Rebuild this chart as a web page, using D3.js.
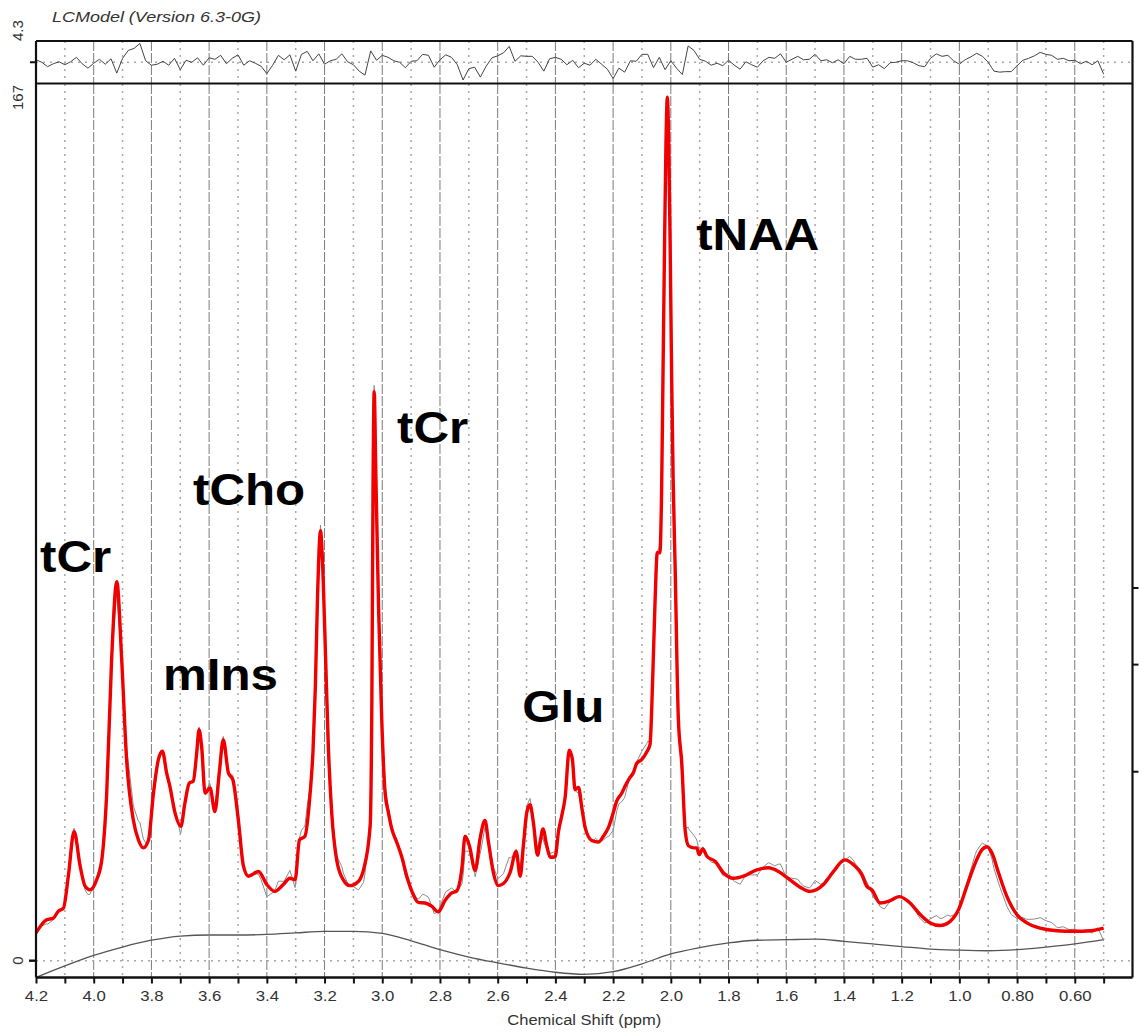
<!DOCTYPE html>
<html>
<head>
<meta charset="utf-8">
<script src="https://cdn.jsdelivr.net/npm/d3@7"></script>
<style>
  body { margin: 0; background: #fff; }
  svg { display: block; }
  text { font-family: "Liberation Sans", Arial, Helvetica, sans-serif; }
</style>
</head>
<body>
<script>
// ---- Fitted spectrum (ppm, amplitude) ----
const fitPpm = [4.200,4.163,4.140,4.123,4.105,4.088,4.068,4.047,4.030,4.013,3.990,3.972,3.955,3.938,3.920,3.903,3.886,3.863,3.845,3.828,3.810,3.793,3.776,3.762,3.747,3.736,3.718,3.698,3.684,3.669,3.655,3.643,3.635,3.626,3.614,3.597,3.580,3.565,3.551,3.533,3.518,3.499,3.481,3.464,3.429,3.400,3.372,3.343,3.320,3.302,3.287,3.268,3.250,3.240,3.232,3.224,3.214,3.205,3.196,3.187,3.175,3.158,3.135,3.112,3.083,3.065,3.042,3.036,3.032,3.028,3.022,3.013,3.002,2.990,2.979,2.967,2.950,2.932,2.915,2.898,2.875,2.852,2.829,2.806,2.782,2.759,2.742,2.724,2.713,2.698,2.678,2.661,2.644,2.632,2.615,2.598,2.580,2.557,2.536,2.522,2.511,2.499,2.488,2.476,2.462,2.453,2.443,2.430,2.418,2.401,2.389,2.378,2.366,2.352,2.341,2.332,2.320,2.308,2.297,2.274,2.251,2.234,2.216,2.199,2.187,2.170,2.158,2.144,2.130,2.118,2.101,2.083,2.072,2.063,2.055,2.047,2.038,2.032,2.027,2.022,2.017,2.012,2.007,2.002,1.997,1.992,1.985,1.974,1.962,1.950,1.939,1.921,1.910,1.902,1.889,1.875,1.846,1.817,1.783,1.748,1.702,1.662,1.627,1.587,1.552,1.517,1.471,1.436,1.398,1.367,1.338,1.321,1.303,1.275,1.246,1.208,1.171,1.136,1.101,1.067,1.032,1.003,0.974,0.945,0.922,0.904,0.887,0.864,0.835,0.801,0.766,0.720,0.662,0.603,0.545,0.500];
const fitVal = [5.3,7.8,8.1,9.4,10.0,16.1,24.6,18.0,14.2,13.5,15.4,19.2,31.9,57.3,72.2,57.3,38.3,26.9,23.0,21.5,23.0,31.9,38.3,39.9,35.7,33.2,28.1,25.6,30.0,33.8,34.2,39.6,44.0,40.8,31.9,32.9,28.4,35.7,42.1,35.7,34.5,26.9,18.0,16.1,17.0,14.5,13.2,14.5,15.7,15.4,23.0,23.7,31.9,40,52,70,81.9,73,57,41,28,19.2,15.4,14.3,15.1,17.3,25.6,50,90,108.4,92,67.7,46.2,31.9,28.3,25.1,22.6,19.7,16.1,13.3,11.1,11.0,10.4,9.3,11.5,12.9,13.3,17.6,23.7,21.9,17.2,23.3,26.7,22.6,16.8,14.3,14.7,16.8,20.8,16.1,21.9,28.3,29.7,26.2,20.1,22.6,25.1,21.9,19.7,19.8,24.7,27.6,31.2,40.1,38.3,32.6,33.0,29.0,25.4,22.9,22.6,23.7,25.4,28.3,30.5,31.9,33.3,34.7,35.8,37.6,38.3,39.8,41.2,53.4,67.7,77.7,77.7,89.2,112,135,155,164.5,155,135,110.7,92,74.9,46.2,37.6,24.7,21.9,21.5,21.5,20.2,21.3,19.9,18.9,16.7,15.7,16.1,17.3,17.7,17.0,15.4,14.0,13.2,14.5,17.0,19.2,18.3,16.4,14.2,13.5,11.0,11.3,12.2,11.0,8.8,7.2,6.7,7.5,9.7,14.2,18.6,21.1,21.7,20.5,16.7,12.2,8.8,7.2,6.2,5.7,5.6,5.7,6.2];

// ---- Baseline ----
const basePpm = [4.2,4.1,4.0,3.9,3.8,3.7,3.6,3.5,3.4,3.3,3.2,3.1,3.0,2.9,2.8,2.7,2.6,2.5,2.4,2.3,2.2,2.1,2.0,1.9,1.8,1.7,1.6,1.5,1.4,1.3,1.2,1.1,1.0,0.9,0.8,0.7,0.6,0.5];
const baseVal = [-3.2,-1.0,1.0,2.6,3.9,4.7,4.9,4.9,5.0,5.3,5.6,5.6,5.2,3.8,2.1,0.7,-0.4,-1.4,-2.2,-2.6,-2.1,-0.6,1.3,2.5,3.4,3.9,4.0,4.1,3.7,3.2,2.7,2.2,2.0,1.9,2.1,2.6,3.2,4.0];

// ---- Residual (data - fit), sampled every 0.02 ppm from 4.20 down to 0.50 ----
const residual = [
  0.5,0.0,-0.9,-0.3,0.1,-0.5,0.1,1.0,-0.3,-1.2,
  -0.2,0.6,-0.4,0.7,-2.2,0.8,2.4,2.8,3.8,0.3,
  -0.6,-0.4,0.2,-0.6,0.8,-1.5,0.4,0.0,0.9,-0.6,
  0.9,0.6,1.4,-0.3,0.8,1.5,-0.6,0.3,-0.2,-0.8,
  -2.3,-0.6,1.4,0.5,1.5,-1.8,1.6,2.2,0.3,1.7,
  -0.4,0.3,0.6,1.7,0.1,-0.5,-1.8,-2.6,2.3,0.4,
  1.4,1.0,0.3,
  0.0,-1.1,0.2,0.3,1.6,1.4,-1.0,0.5,1.5,1.0,
  -0.5,-3.6,-1.3,-1.0,-3.0,-0.8,0.9,1.3,1.9,3.2,
  0.2,1.3,1.2,1.2,0.0,-1.8,0.7,1.0,0.6,-0.5,
  0.4,-1.1,-0.2,-0.6,0.6,-0.4,-1.4,-3.3,-1.2,-2.0,
  0.3,0.2,1.6,1.6,-1.1,1.0,-1.5,0.3,-1.2,-2.5,
  3.3,2.4,0.6,0.2,-0.6,-0.2,-0.7,0.4,-0.6,-1.4,
  0.1,-0.5,-1.0,
  0.3,1.0,0.8,1.7,0.0,0.6,1.2,0.5,0.6,1.6,
  0.3,0.5,-0.1,0.5,-0.3,1.2,0.6,0.6,0.8,-1.0,
  -0.5,-1.3,-0.1,0.0,0.3,0.3,-0.1,-0.7,-0.9,0.8,
  1.7,1.2,1.4,0.3,-0.4,0.5,1.1,1.8,1.2,0.0,
  -1.8,-2.0,-1.9,-1.9,-0.7,0.4,0.8,1.3,2.0,1.6,
  1.4,0.6,0.8,0.3,0.4,-0.3,0.2,-0.5,0.3,-2.4
];
const residPpm = residual.map((_, i) => +(4.2 - i * 0.02).toFixed(2));

// ---- Axis ticks ----
const tickValues = [4.2,4.0,3.8,3.6,3.4,3.2,3.0,2.8,2.6,2.4,2.2,2.0,1.8,1.6,1.4,1.2,1.0,0.8,0.6];
const tickLabels = ["4.2","4.0","3.8","3.6","3.4","3.2","3.0","2.8","2.6","2.4","2.2","2.0","1.8","1.6","1.4","1.2","1.0","0.80","0.60"];
const minorTicks = [4.1,3.9,3.7,3.5,3.3,3.1,2.9,2.7,2.5,2.3,2.1,1.9,1.7,1.5,1.3,1.1,0.9,0.7,0.5];
const sideTicks = [71.0, 56.4, 36.0];

// ---- Peak annotations ----
const peakNames = ["tCr","mIns","tCho","tCr","Glu","tNAA"];
const peakPpm   = [4.186, 3.760, 3.656, 2.949, 2.515, 1.912];
const peakVal   = [74.1, 51.6, 86.9, 98.7, 45.5, 135.4];

// ---------------------------------------------------------------
const W = 1139, H = 1032;
const left = 36, right = 1132.5;
const resTop = 41, resBot = 83.5, mainTop = 84, mainBot = 977.5;

const x = d3.scaleLinear().domain([4.2, 0.4]).range([left, right]);
const y = d3.scaleLinear().domain([-3.2, 167]).range([mainBot, mainTop]);
const yr = d3.scaleLinear().domain([-4.3, 4.3]).range([resBot, resTop]);

const svg = d3.select("body").append("svg").attr("width", W).attr("height", H);

svg.append("defs").append("clipPath").attr("id", "plotClip")
  .append("rect").attr("x", left).attr("y", mainTop).attr("width", right - left).attr("height", mainBot - mainTop);

// grid: vertical lines across both panels
const gridG = svg.append("g");
function vgrid(vals, dash, color, width) {
  [[resTop, resBot], [mainTop, mainBot]].forEach(([a, b]) => {
    gridG.selectAll(null).data(vals).enter().append("line")
      .attr("x1", d => x(d)).attr("x2", d => x(d))
      .attr("y1", a).attr("y2", b)
      .attr("stroke", color).attr("stroke-width", width)
      .attr("stroke-dasharray", dash);
  });
}
vgrid(tickValues.filter(v => v < 4.2), "10,2", "#7a7a7a", 1);
vgrid(minorTicks, "2,5", "#a8a8a8", 1.5);

// zero lines
gridG.append("line").attr("x1", left).attr("x2", right).attr("y1", y(0)).attr("y2", y(0))
  .attr("stroke", "#a8a8a8").attr("stroke-width", 1.5).attr("stroke-dasharray", "2,5");
gridG.append("line").attr("x1", left).attr("x2", right).attr("y1", yr(0)).attr("y2", yr(0))
  .attr("stroke", "#a8a8a8").attr("stroke-width", 1.5).attr("stroke-dasharray", "2,5");

// helpers for combining fit and residual into the measured trace
const fitAsc = fitPpm.map((p, i) => [p, fitVal[i]]).reverse();
const resAsc = residPpm.map((p, i) => [p, residual[i]]).reverse();
function lerp(arr, p) {
  const i = d3.bisector(d => d[0]).left(arr, p);
  if (i <= 0) return arr[0][1];
  if (i >= arr.length) return arr[arr.length - 1][1];
  const a = arr[i - 1], b = arr[i];
  return a[1] + (b[1] - a[1]) * (p - a[0]) / (b[0] - a[0]);
}
const dataPts = [];
fitPpm.forEach((p, i) => dataPts.push([p, fitVal[i] + lerp(resAsc, p)]));
residPpm.forEach((p, i) => dataPts.push([p, lerp(fitAsc, p) + residual[i]]));
dataPts.sort((a, b) => b[0] - a[0]);

const plot = svg.append("g").attr("clip-path", "url(#plotClip)");

// baseline
plot.append("path")
  .attr("d", d3.line().x((p, i) => x(p)).y((p, i) => y(baseVal[i])).curve(d3.curveMonotoneX)(basePpm))
  .attr("fill", "none").attr("stroke", "#555").attr("stroke-width", 1.3);

// measured data
plot.append("path")
  .attr("d", d3.line().x(d => x(d[0])).y(d => y(d[1]))(dataPts))
  .attr("fill", "none").attr("stroke", "#8a8a8a").attr("stroke-width", 1);

// fit
plot.append("path")
  .attr("d", d3.line().x(p => x(p)).y((p, i) => y(fitVal[i])).curve(d3.curveMonotoneX)(fitPpm))
  .attr("fill", "none").attr("stroke", "#f00000").attr("stroke-width", 3.4)
  .attr("stroke-linejoin", "round");

// residual panel trace
svg.append("path")
  .attr("d", d3.line().x(p => x(p)).y((p, i) => yr(residual[i]))(residPpm))
  .attr("fill", "none").attr("stroke", "#444").attr("stroke-width", 1);

// frame
const frame = svg.append("g").attr("stroke", "#111").attr("stroke-width", 2.2).attr("fill", "none");
frame.append("line").attr("x1", left).attr("x2", right).attr("y1", resTop).attr("y2", resTop);
frame.append("line").attr("x1", left).attr("x2", right).attr("y1", resBot).attr("y2", resBot);
frame.append("line").attr("x1", left).attr("x2", left).attr("y1", resTop).attr("y2", mainBot);
frame.append("line").attr("x1", right).attr("x2", right).attr("y1", resTop).attr("y2", mainBot);

// bottom axis
const xAxis = d3.axisBottom(x)
  .tickValues(tickValues.concat(minorTicks))
  .tickSize(6)
  .tickFormat(d => { const k = tickValues.indexOf(d); return k >= 0 ? tickLabels[k] : ""; });
const ax = svg.append("g").attr("transform", `translate(0,${mainBot})`).call(xAxis);
ax.select(".domain").attr("stroke", "#111").attr("stroke-width", 2.4).attr("d", `M${left},0H${right}`);
ax.selectAll(".tick line").attr("stroke", "#111").attr("stroke-width", 2);
ax.selectAll(".tick text")
  .attr("fill", "#333").attr("font-size", 15).attr("dy", "0.71em").attr("y", 13)
  .attr("transform", function () { const tx = 0; return `scale(1.12,1)`; })
  .attr("x", 0);
// keep horizontal stretch centred on each tick
ax.selectAll(".tick").each(function (d) {
  d3.select(this).select("text").attr("transform", null)
    .attr("text-anchor", "middle")
    .attr("transform", "scale(1.12,1)");
});

svg.append("text").attr("text-anchor", "middle")
  .attr("transform", `translate(${(left + right) / 2},1025) scale(1.1,1)`)
  .attr("font-size", 15).attr("fill", "#333").text("Chemical Shift (ppm)");

// left-side ticks and rotated labels
svg.append("line").attr("x1", 29).attr("x2", left).attr("y1", y(0)).attr("y2", y(0)).attr("stroke", "#111").attr("stroke-width", 2.4);
svg.append("line").attr("x1", 30).attr("x2", left).attr("y1", yr(0)).attr("y2", yr(0)).attr("stroke", "#111").attr("stroke-width", 2);
svg.append("text").attr("transform", `translate(23,${y(0)}) rotate(-90)`).attr("text-anchor", "middle")
  .attr("font-size", 15).attr("fill", "#333").text("0");
svg.append("text").attr("transform", `translate(23,${mainTop + 1}) rotate(-90)`).attr("text-anchor", "end")
  .attr("font-size", 15).attr("fill", "#333").text("167");
svg.append("text").attr("transform", `translate(23,${resTop}) rotate(-90)`).attr("text-anchor", "start")
  .attr("font-size", 15).attr("fill", "#333").text("4.3");

// right-side ticks
svg.selectAll(null).data(sideTicks).enter().append("line")
  .attr("x1", right).attr("x2", right + 6).attr("y1", d => y(d)).attr("y2", d => y(d))
  .attr("stroke", "#111").attr("stroke-width", 2);

// title
svg.append("text").attr("transform", "translate(52,22) scale(1.16,1)")
  .attr("font-size", 15.5).attr("font-style", "italic").attr("fill", "#333")
  .text("LCModel (Version 6.3-0G)");

// peak names
svg.selectAll(null).data(peakNames).enter().append("text")
  .attr("transform", (d, i) => `translate(${x(peakPpm[i])},${y(peakVal[i])}) scale(1.12,1)`)
  .attr("font-size", 44).attr("font-weight", "bold").attr("fill", "#000")
  .text(d => d);
</script>
</body>
</html>
